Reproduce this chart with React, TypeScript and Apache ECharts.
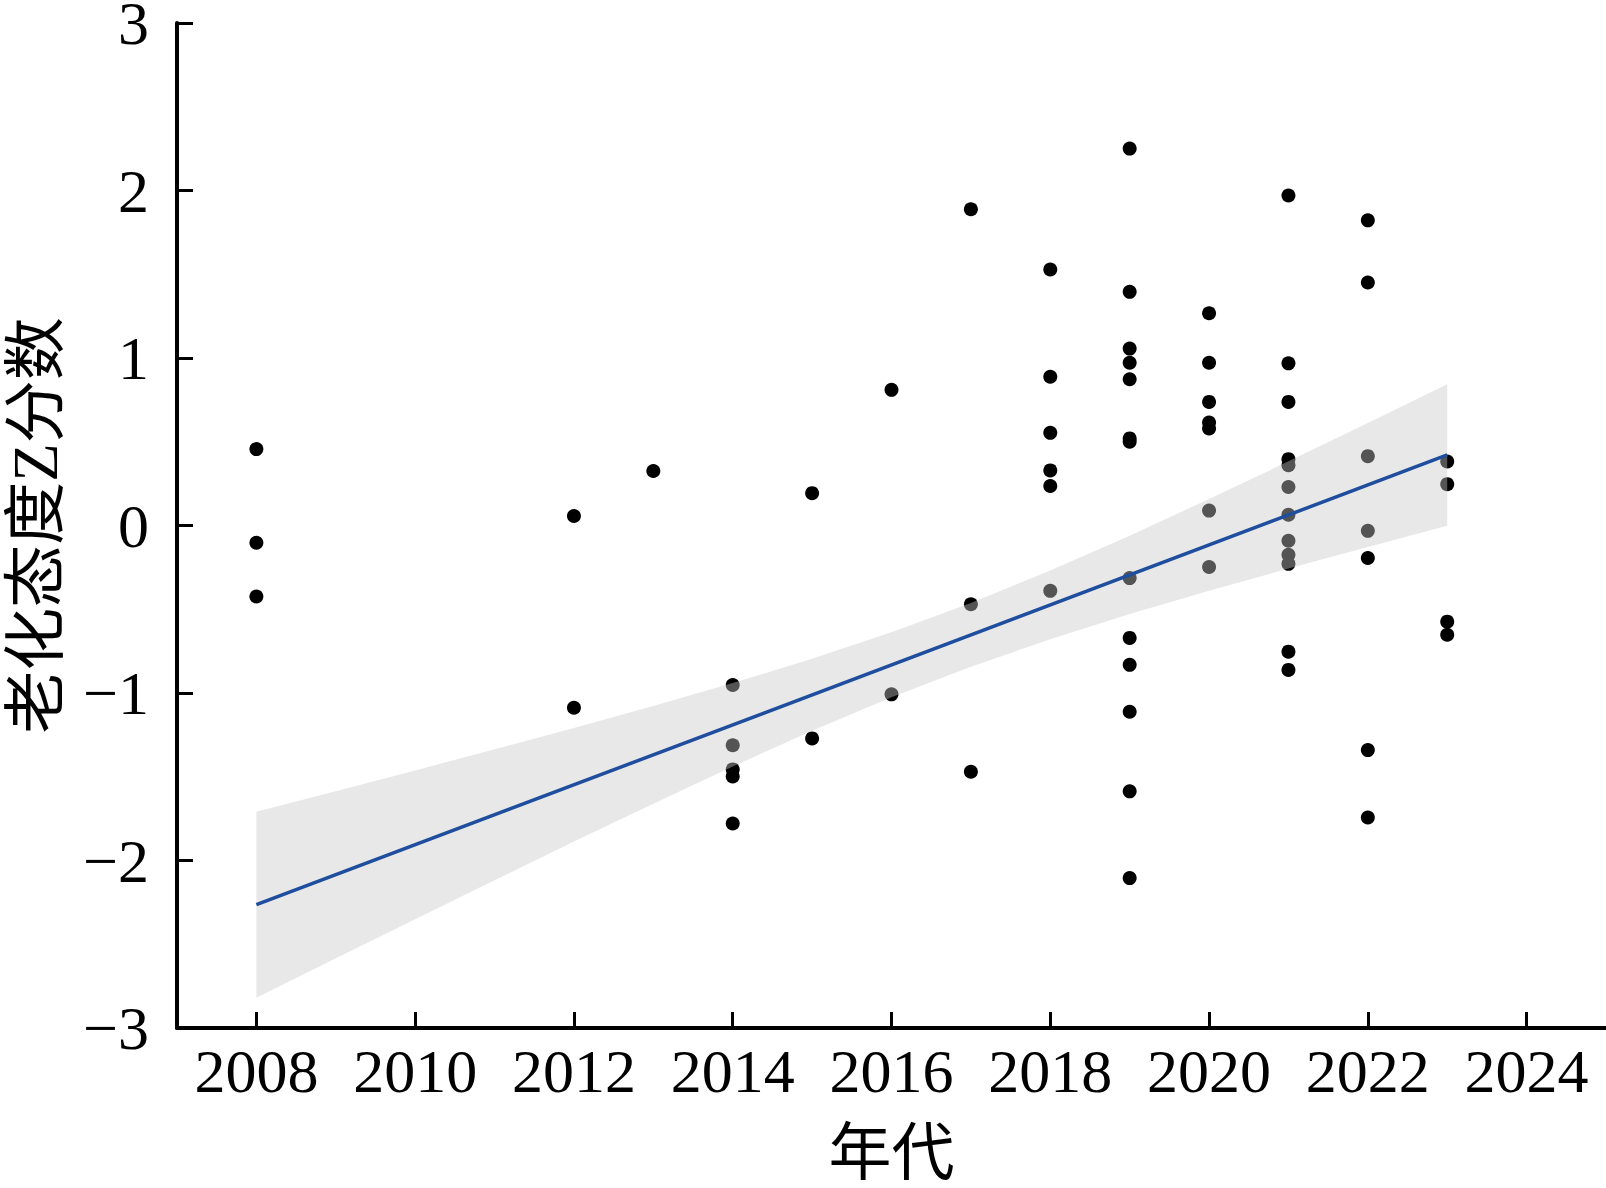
import React, { useEffect, useRef } from "react";
import * as echarts from "echarts";

// Axis ticks
const xTickYears = [2008, 2010, 2012, 2014, 2016, 2018, 2020, 2022, 2024];

// Study points (year, ageing-attitude Z score)
const pointYears = [
  2008, 2008, 2008,
  2012, 2012,
  2013,
  2014, 2014, 2014, 2014, 2014,
  2015, 2015,
  2016, 2016,
  2017, 2017, 2017,
  2018, 2018, 2018, 2018, 2018, 2018,
  2019, 2019, 2019, 2019, 2019, 2019, 2019, 2019, 2019, 2019, 2019, 2019, 2019,
  2020, 2020, 2020, 2020, 2020, 2020, 2020,
  2021, 2021, 2021, 2021, 2021, 2021, 2021, 2021, 2021, 2021, 2021, 2021,
  2022, 2022, 2022, 2022, 2022, 2022, 2022,
  2023, 2023, 2023, 2023,
];
const pointScores = [
  0.456, -0.103, -0.424,
  0.057, -1.088,
  0.325,
  -0.952, -1.312, -1.456, -1.498, -1.779,
  0.193, -1.271,
  0.81, -1.008,
  1.888, -0.47, -1.47,
  1.528, 0.888, 0.553, 0.329, 0.236, -0.39,
  2.25, 1.395, 1.056, 0.972, 0.873, 0.52, 0.5, -0.314, -0.671, -0.832, -1.112, -1.587, -2.105,
  1.267, 0.972, 0.738, 0.615, 0.579, 0.089, -0.248,
  1.97, 0.968, 0.738, 0.396, 0.36, 0.23, 0.064, -0.091, -0.175, -0.229, -0.753, -0.862,
  1.822, 1.451, 0.414, -0.032, -0.194, -1.341, -1.743,
  0.382, 0.247, -0.574, -0.652,
];

// Fitted regression line
const fitYears = [2008, 2023];
const fitScores = [-2.264, 0.421];

// Confidence band
const bandYears = [2008, 2009, 2010, 2011, 2012, 2013, 2014, 2015, 2016, 2017, 2018, 2019, 2020, 2021, 2022, 2023];
const bandLower = [-2.819, -2.584, -2.35, -2.118, -1.887, -1.661, -1.439, -1.226, -1.026, -0.843, -0.679, -0.529, -0.39, -0.257, -0.128, -0.001];
const bandUpper = [-1.709, -1.586, -1.462, -1.336, -1.209, -1.077, -0.941, -0.796, -0.638, -0.463, -0.269, -0.061, 0.158, 0.383, 0.612, 0.843];

const SERIF = "Liberation Serif, Times New Roman, Noto Sans CJK SC, serif";

export default function App() {
  const ref = useRef<HTMLDivElement>(null);

  useEffect(() => {
    if (!ref.current) return;
    const chart = echarts.init(ref.current, undefined, { renderer: "svg" });

    const points = pointYears.map((y, i) => [y, pointScores[i]]);
    const fit = fitYears.map((y, i) => [y, fitScores[i]]);
    const band = bandYears.map((y, i) => [y, bandLower[i], bandUpper[i]]);

    chart.setOption({
      animation: false,
      backgroundColor: "#ffffff",
      grid: {
        left: 177,
        right: 0,
        top: 23,
        bottom: 160,
        containLabel: false,
        outerBoundsMode: "none",
      },
      xAxis: {
        type: "value",
        min: 2007,
        max: 2025,
        name: "年代",
        nameLocation: "middle",
        nameGap: 93,
        nameTextStyle: { fontFamily: SERIF, fontSize: 63, color: "#000" },
        axisLine: { show: true, onZero: false, lineStyle: { color: "#000", width: 4 } },
        axisTick: { show: true, inside: true, length: 16, customValues: xTickYears, lineStyle: { color: "#000", width: 3 } },
        axisLabel: {
          show: true,
          customValues: xTickYears,
          margin: 12,
          fontFamily: SERIF,
          fontSize: 62,
          color: "#000",
          formatter: (v: number) => String(v),
        },
        splitLine: { show: false },
      },
      yAxis: {
        type: "value",
        min: -3,
        max: 3,
        interval: 1,
        name: "老化态度Z分数",
        nameLocation: "middle",
        nameGap: 110,
        nameRotate: 90,
        nameTextStyle: { fontFamily: SERIF, fontSize: 63, color: "#000" },
        axisLine: { show: true, onZero: false, lineStyle: { color: "#000", width: 4 } },
        axisTick: { show: true, inside: true, length: 16, lineStyle: { color: "#000", width: 3 } },
        axisLabel: {
          margin: 28,
          fontFamily: SERIF,
          fontSize: 62,
          color: "#000",
          formatter: (v: number) => (v < 0 ? "\u2212" + Math.abs(v) : String(v)),
        },
        splitLine: { show: false },
      },
      series: [
        {
          type: "scatter",
          data: points,
          symbol: "circle",
          symbolSize: 14,
          itemStyle: { color: "#000000", opacity: 1 },
          z: 2,
          silent: true,
        },
        {
          type: "custom",
          data: band,
          encode: { x: 0, y: [1, 2] },
          z: 3,
          silent: true,
          renderItem: (params: any, api: any) => {
            if (params.dataIndex !== 0) return null;
            const upper = band.map((d) => api.coord([d[0], d[2]]));
            const lower = band.map((d) => api.coord([d[0], d[1]])).reverse();
            return {
              type: "polygon",
              shape: { points: upper.concat(lower) },
              style: { fill: "rgba(200,200,200,0.42)", stroke: null },
            };
          },
        },
        {
          type: "line",
          data: fit,
          symbol: "none",
          lineStyle: { color: "#1f4e9e", width: 3.5 },
          z: 4,
          silent: true,
        },
      ],
    });

    return () => chart.dispose();
  }, []);

  return (
    <div
      ref={ref}
      style={{ position: "fixed", left: 0, top: 0, width: 1606, height: 1188, background: "#fff" }}
    />
  );
}
